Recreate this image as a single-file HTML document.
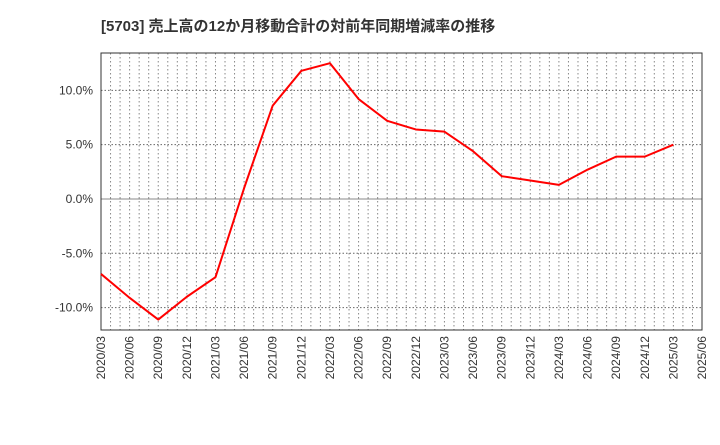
<!DOCTYPE html>
<html><head><meta charset="utf-8"><style>
body{margin:0;background:#fff;font-family:"Liberation Sans","Noto Sans CJK JP",sans-serif;}
</style></head><body>
<svg id="chart" width="720" height="440" xmlns="http://www.w3.org/2000/svg">
<text x="101" y="31" font-size="15" font-weight="bold" fill="#333">[5703]  売上高の12か月移動合計の対前年同期増減率の推移</text>
<g id="grid"></g><g id="axes"></g><g id="series"></g>
</svg>
<script>
const categories=["2020/03","2020/06","2020/09","2020/12","2021/03","2021/06","2021/09","2021/12","2022/03","2022/06","2022/09","2022/12","2023/03","2023/06","2023/09","2023/12","2024/03","2024/06","2024/09","2024/12","2025/03"];
const values=[-6.9,-9.1,-11.1,-9.0,-7.2,1.0,8.6,11.8,12.5,9.2,7.2,6.4,6.2,4.4,2.1,1.7,1.3,2.7,3.9,3.9,5.0];
const xLabels=["2020/03","2020/06","2020/09","2020/12","2021/03","2021/06","2021/09","2021/12","2022/03","2022/06","2022/09","2022/12","2023/03","2023/06","2023/09","2023/12","2024/03","2024/06","2024/09","2024/12","2025/03","2025/06"];
const yTicks=[10,5,0,-5,-10];
const yTickLabels=["10.0%","5.0%","0.0%","-5.0%","-10.0%"];
const L=101,R=702,T=53,B=330,yMax=13.44,yMin=-12.06,nMonths=63;
const NS="http://www.w3.org/2000/svg";
function x(iq){return L+(iq*3)*(R-L)/nMonths;}
function xm(m){return L+m*(R-L)/nMonths;}
function y(v){return T+(yMax-v)/(yMax-yMin)*(B-T);}
function mk(t,a,p){const e=document.createElementNS(NS,t);for(const k in a)e.setAttribute(k,a[k]);p.appendChild(e);return e;}
const g=document.getElementById('grid'),ax=document.getElementById('axes'),s=document.getElementById('series');
for(let m=1;m<nMonths;m++){const l=mk('line',{x1:xm(m),x2:xm(m),y1:T,y2:B,stroke:'#888','stroke-dasharray':'1.5,2.5','stroke-width':1},g);

}
yTicks.forEach((v,i)=>{const l=mk('line',{x1:L,x2:R,y1:y(v),y2:y(v),stroke:v===0?'#888':'#666','stroke-dasharray':v===0?'none':'1.5,2','stroke-width':1},g);


const t=mk('text',{x:L-8,y:y(v)+4,'text-anchor':'end','font-size':12,fill:'#333'},ax);t.textContent=yTickLabels[i];

});
const fr=mk('rect',{x:L,y:T,width:R-L,height:B-T,fill:'none',stroke:'#333','stroke-width':1},ax);


xLabels.forEach((c,i)=>{const xx=x(i);const t=mk('text',{x:xx+4,y:B+6,'text-anchor':'end','font-size':12,fill:'#333',transform:`rotate(-90 ${xx+4} ${B+6})`},ax);t.textContent=c;

});
const pts=values.map((v,i)=>x(i)+','+y(v)).join(' ');
const pl=mk('polyline',{points:pts,fill:'none',stroke:'#f00','stroke-width':2,'stroke-linejoin':'round'},s);


</script>
</body></html>
